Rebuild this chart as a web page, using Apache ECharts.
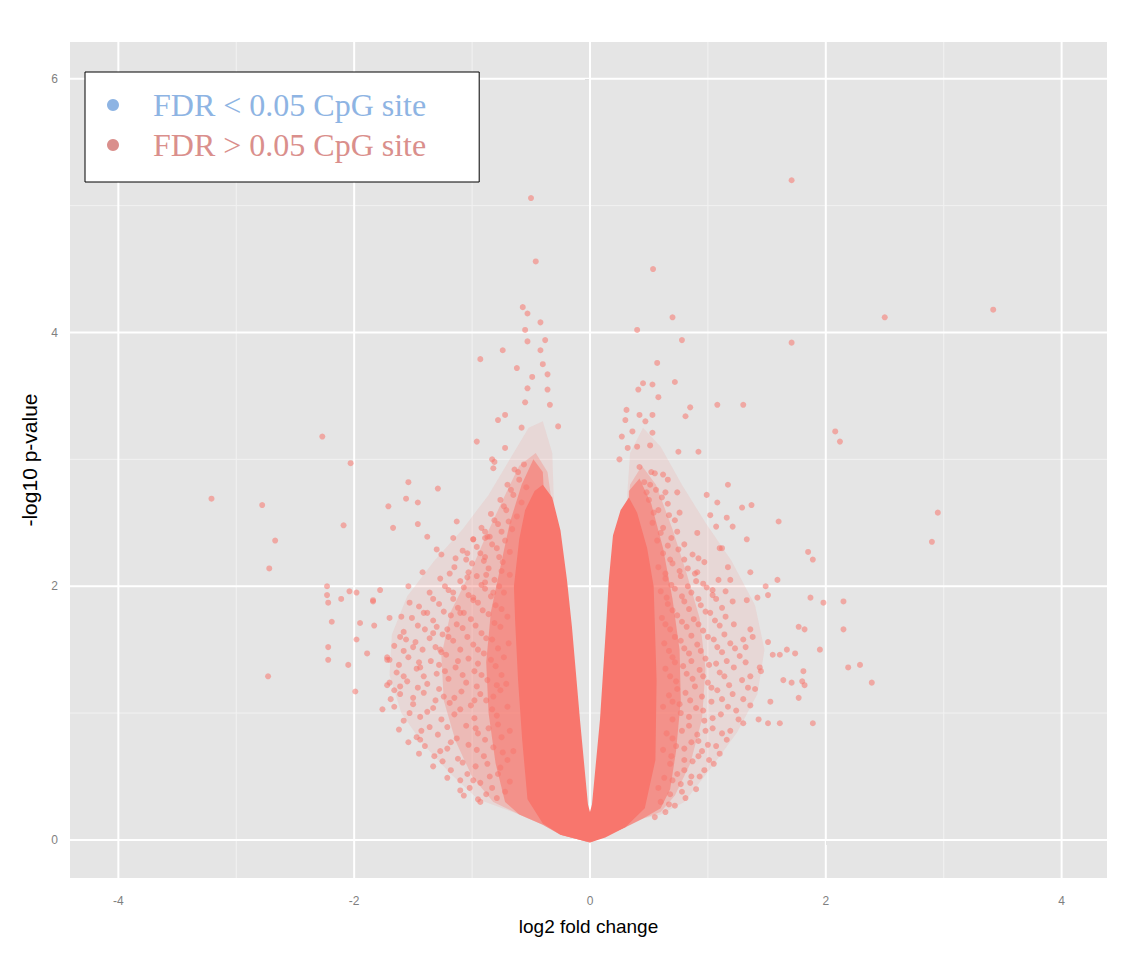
<!DOCTYPE html>
<html><head><meta charset="utf-8">
<script src="https://cdn.jsdelivr.net/npm/echarts@6/dist/echarts.min.js"></script>
<style>html,body{margin:0;padding:0;background:#fff}#c{width:1127px;height:956px}</style>
</head><body><div id="c"></div><script>
const xMajorTicks=[-4,-2,0,2,4];
const xMinorTicks=[-3,-1,1,3];
const yMajorTicks=[0,2,4,6];
const yMinorTicks=[1,3,5];
const seriesNames=['FDR < 0.05 CpG site','FDR > 0.05 CpG site'];
const significantPoints=[];
// dense core (solid) outline in data coordinates
const coreOutline=[[0,-0.02],[-0.25,0.04],[-0.40,0.13],[-0.53,0.32],[-0.575,0.79],[-0.61,1.26],[-0.635,1.73],[-0.645,2.0],[-0.60,2.37],[-0.55,2.6],[-0.47,2.75],[-0.40,2.8],[-0.32,2.7],[-0.25,2.44],[-0.195,2.05],[-0.153,1.68],[-0.085,0.95],[-0.017,0.28],[0,0.22],[0.017,0.28],[0.085,0.95],[0.136,1.68],[0.16,2.05],[0.195,2.4],[0.26,2.6],[0.33,2.7],[0.40,2.58],[0.485,2.3],[0.54,2.0],[0.565,1.26],[0.555,0.63],[0.465,0.25],[0.30,0.1],[0.13,0.02]];
const haloOuterLeft=[[0,-0.02],[-0.25,0.04],[-0.4,0.12],[-0.6,0.2],[-0.8,0.27],[-0.95,0.32],[-1.18,0.52],[-1.42,0.76],[-1.6,1.0],[-1.7,1.3],[-1.68,1.62],[-1.55,1.92],[-1.32,2.2],[-1.08,2.45],[-0.86,2.72],[-0.68,3.0],[-0.52,3.25],[-0.40,3.3],[-0.32,3.05],[-0.3,2.5],[-0.35,1.5],[-0.3,0.5],[-0.1,0.1]];
const haloInnerLeft=[[0,-0.02],[-0.25,0.04],[-0.4,0.12],[-0.6,0.2],[-0.82,0.3],[-1.0,0.5],[-1.14,0.78],[-1.24,1.1],[-1.26,1.45],[-1.18,1.8],[-1.02,2.1],[-0.88,2.4],[-0.74,2.68],[-0.6,2.95],[-0.46,3.05],[-0.36,2.9],[-0.3,2.5],[-0.35,1.5],[-0.3,0.5],[-0.1,0.1]];
const nearCoreLeft=[[0,-0.02],[-0.25,0.04],[-0.4,0.12],[-0.6,0.2],[-0.72,0.3],[-0.8,0.6],[-0.86,1.0],[-0.88,1.4],[-0.84,1.8],[-0.76,2.15],[-0.68,2.5],[-0.58,2.8],[-0.48,3.0],[-0.4,2.9],[-0.35,2.0],[-0.3,0.5],[-0.1,0.1]];
const haloOuterRight=[[0,-0.02],[0.3,0.1],[0.45,0.17],[0.6,0.2],[0.8,0.3],[1.02,0.56],[1.25,0.85],[1.42,1.15],[1.48,1.5],[1.4,1.85],[1.2,2.2],[0.98,2.5],[0.78,2.8],[0.6,3.1],[0.45,3.25],[0.34,3.05],[0.3,2.5],[0.3,1.5],[0.25,0.5],[0.1,0.1]];
const haloInnerRight=[[0,-0.02],[0.3,0.1],[0.45,0.17],[0.6,0.22],[0.72,0.35],[0.85,0.6],[0.95,0.95],[0.98,1.35],[0.93,1.75],[0.82,2.1],[0.7,2.45],[0.56,2.8],[0.44,2.95],[0.34,2.8],[0.3,2.3],[0.3,1.5],[0.25,0.5],[0.1,0.1]];
const nearCoreRight=[[0,-0.02],[0.3,0.1],[0.45,0.17],[0.6,0.25],[0.68,0.4],[0.73,0.7],[0.77,1.1],[0.76,1.5],[0.7,1.9],[0.62,2.3],[0.52,2.65],[0.42,2.85],[0.33,2.75],[0.32,2.0],[0.25,0.5],[0.1,0.1]];
const fringeLeft=[[-0.95,0.32],[-0.88,0.36],[-1.02,0.41],[-0.79,0.33],[-1.10,0.47],[-0.93,0.45],[-0.72,0.38],[-1.18,0.55],[-1.04,0.52],[-0.85,0.50],[-0.68,0.46],[-0.97,0.58],[-1.25,0.62],[-0.76,0.57],
[-1.32,0.66],[-1.12,0.64],[-0.90,0.66],[-0.70,0.63],[-1.40,0.74],[-1.21,0.72],[-1.03,0.75],[-0.82,0.73],[-0.65,0.70],[-1.47,0.81],[-1.29,0.83],[-1.13,0.80],[-0.95,0.84],[-0.75,0.81],[-1.36,0.89],[-1.05,0.90],[-0.86,0.88],[-0.68,0.86],
[-1.58,0.94],[-1.44,0.97],[-1.26,0.95],[-1.15,0.99],[-0.98,0.96],[-0.79,0.98],[-1.66,1.05],[-1.50,1.07],[-1.33,1.04],[-1.19,1.08],[-1.01,1.06],[-0.88,1.10],[-0.70,1.05],[-1.61,1.15],[-1.41,1.16],[-1.24,1.13],[-1.09,1.17],[-0.93,1.15],[-0.76,1.18],
[-1.72,1.22],[-1.55,1.25],[-1.38,1.23],[-1.20,1.27],[-1.05,1.24],[-0.87,1.26],[-0.71,1.23],[-1.64,1.32],[-1.47,1.35],[-1.30,1.31],[-1.14,1.36],[-0.98,1.33],[-0.80,1.37],[-1.70,1.42],[-1.54,1.44],[-1.35,1.41],[-1.22,1.46],[-1.03,1.43],[-0.90,1.47],[-0.73,1.44],
[-1.66,1.53],[-1.48,1.56],[-1.31,1.52],[-1.16,1.57],[-0.99,1.54],[-0.83,1.58],[-0.69,1.55],[-1.58,1.64],[-1.40,1.66],[-1.25,1.62],[-1.08,1.67],[-0.92,1.63],[-0.76,1.68],[-1.51,1.75],[-1.33,1.73],[-1.18,1.77],[-1.01,1.74],[-0.86,1.78],[-0.70,1.76],
[-1.45,1.84],[-1.28,1.86],[-1.12,1.83],[-0.95,1.87],[-0.80,1.85],[-1.36,1.95],[-1.20,1.97],[-1.03,1.93],[-0.89,1.98],[-0.73,1.95],[-1.27,2.06],[-1.10,2.04],[-0.96,2.08],[-0.81,2.05],[-0.68,2.09],
[-1.15,2.15],[-1.00,2.18],[-0.86,2.14],[-0.74,2.19],[-1.08,2.28],[-0.93,2.26],[-0.79,2.30],[-0.68,2.27],[-0.99,2.37],[-0.85,2.39],[-0.72,2.36],
[-0.92,2.46],[-0.78,2.49],[-0.66,2.45],[-0.84,2.57],[-0.71,2.60],[-0.62,2.55],[-0.76,2.68],[-0.65,2.72],[-0.58,2.66],[-0.70,2.80],[-0.60,2.84],[-0.54,2.78],[-0.64,2.92],[-0.56,2.96]];
const fringeLeft2=[[-1.07,0.35],[-0.83,0.41],[-1.21,0.49],[-0.99,0.47],[-0.78,0.52],[-1.33,0.58],[-1.08,0.61],[-0.87,0.60],[-1.45,0.68],[-1.27,0.70],[-0.96,0.71],[-0.74,0.69],[-1.54,0.77],[-1.18,0.77],[-0.89,0.79],[-1.62,0.87],[-1.43,0.86],[-1.21,0.89],[-0.97,0.88],[-0.78,0.91],[-1.53,1.00],[-1.38,1.01],[-1.10,1.03],[-0.83,1.03],[-1.69,1.11],[-1.50,1.12],[-1.31,1.10],[-1.15,1.12],[-0.98,1.10],[-0.82,1.13],[-1.46,1.20],[-1.28,1.19],[-0.96,1.21],[-0.79,1.22],[-1.58,1.29],[-1.41,1.29],[-1.23,1.33],[-1.08,1.30],[-0.92,1.30],[-0.75,1.30],[-1.62,1.38],[-1.45,1.40],[-1.28,1.38],[-1.12,1.41],[-0.95,1.39],[-0.84,1.42],[-1.58,1.49],[-1.42,1.50],[-1.26,1.48],[-1.10,1.50],[-0.95,1.50],[-0.78,1.51],[-1.56,1.58],[-1.36,1.59],[-1.20,1.60],[-1.04,1.60],[-0.88,1.59],[-1.46,1.69],[-1.30,1.68],[-1.13,1.70],[-0.97,1.69],[-0.81,1.71],[-1.41,1.79],[-1.24,1.80],[-1.07,1.79],[-0.91,1.81],[-0.75,1.82],[-1.33,1.90],[-1.16,1.90],[-0.99,1.91],[-0.84,1.92],[-1.23,2.00],[-1.07,1.99],[-0.92,2.01],[-0.77,2.00],[-1.19,2.10],[-1.03,2.11],[-0.88,2.09],[-0.75,2.12],[-1.05,2.21],[-0.90,2.20],[-0.77,2.23],[-0.96,2.31],[-0.83,2.33],[-0.89,2.43],[-0.75,2.43],[-0.81,2.52],[-0.69,2.51],[-0.73,2.63],[-0.67,2.76],[-0.61,2.90]];
const fringeRight=[[0.55,0.18],[0.64,0.22],[0.72,0.27],[0.60,0.30],[0.81,0.33],[0.68,0.36],[0.90,0.40],[0.58,0.41],[0.77,0.44],
[0.63,0.49],[0.74,0.52],[0.86,0.50],[0.97,0.55],[1.05,0.60],[0.68,0.60],[0.80,0.63],[0.92,0.66],[1.10,0.68],[0.62,0.71],[0.73,0.74],[0.86,0.77],[1.00,0.75],[1.16,0.79],
[0.65,0.84],[0.78,0.86],[0.91,0.83],[1.04,0.88],[1.19,0.86],[1.30,0.92],[0.70,0.95],[0.84,0.97],[0.97,0.94],[1.11,0.99],[1.24,1.02],[0.62,1.05],[0.76,1.07],[0.90,1.04],[1.03,1.09],[1.36,1.06],
[0.67,1.14],[0.81,1.16],[0.95,1.13],[1.08,1.18],[1.21,1.15],[1.40,1.19],[0.73,1.25],[0.87,1.27],[1.00,1.24],[1.14,1.29],[1.29,1.26],[0.64,1.35],[0.79,1.37],[0.93,1.34],[1.07,1.39],[1.22,1.36],[1.45,1.33],
[0.70,1.44],[0.84,1.47],[0.98,1.43],[1.12,1.48],[1.27,1.45],[0.63,1.55],[0.77,1.57],[0.91,1.54],[1.05,1.58],[1.19,1.55],[1.38,1.60],[0.68,1.66],[0.82,1.68],[0.96,1.65],[1.10,1.69],
[0.61,1.75],[0.74,1.77],[0.88,1.74],[1.02,1.79],[1.15,1.76],[0.66,1.86],[0.80,1.88],[0.94,1.85],[1.07,1.90],[0.60,1.96],[0.72,1.98],[0.86,1.95],[0.99,1.99],
[0.64,2.06],[0.77,2.08],[0.90,2.04],[0.58,2.15],[0.70,2.18],[0.83,2.14],[0.97,2.19],[0.62,2.26],[0.75,2.29],[0.87,2.25],[0.57,2.36],[0.69,2.38],
[0.62,2.46],[0.53,2.50],[0.72,2.52],[0.58,2.60],[0.66,2.65],[0.50,2.68],[0.56,2.76],[0.46,2.82],[0.62,2.88]];
const fringeRight2=[[0.67,0.28],[0.78,0.38],[0.85,0.45],[0.70,0.47],[0.93,0.50],[0.80,0.55],[1.01,0.63],[0.87,0.62],[0.69,0.66],[0.95,0.70],[1.07,0.74],[0.80,0.72],[0.70,0.80],[0.92,0.78],[1.12,0.84],[0.98,0.86],[0.84,0.90],[1.26,0.95],[1.04,0.96],[0.77,1.00],[0.96,1.02],[1.17,1.05],[0.70,1.09],[0.85,1.10],[1.30,1.11],[1.12,1.11],[0.74,1.19],[0.89,1.21],[1.03,1.20],[1.18,1.22],[1.34,1.20],[0.68,1.29],[0.82,1.31],[0.96,1.29],[1.10,1.32],[1.36,1.29],[0.72,1.40],[0.86,1.41],[1.01,1.38],[1.16,1.41],[1.32,1.40],[0.67,1.49],[0.80,1.51],[0.94,1.49],[1.08,1.52],[1.23,1.51],[0.72,1.60],[0.86,1.61],[1.00,1.60],[1.14,1.62],[1.30,1.58],[0.64,1.70],[0.78,1.72],[0.92,1.70],[1.06,1.73],[1.22,1.70],[0.70,1.81],[0.84,1.82],[0.98,1.80],[1.12,1.83],[0.65,1.91],[0.78,1.92],[0.92,1.90],[1.04,1.93],[0.69,2.01],[0.83,2.00],[0.96,2.02],[0.64,2.10],[0.76,2.12],[0.89,2.10],[0.68,2.21],[0.80,2.21],[0.92,2.22],[0.66,2.32],[0.80,2.33],[0.60,2.42],[0.74,2.43],[0.67,2.56],[0.54,2.58],[0.61,2.70],[0.52,2.90],[0.48,2.74]];
const sparsePoints=[[-0.50,5.06],[-0.46,4.56],[1.71,5.20],[0.535,4.50],[3.42,4.18],[2.50,4.12],[1.71,3.92],
[-0.57,4.20],[-0.53,4.15],[-0.42,4.08],[-0.55,4.02],[-0.38,3.94],[-0.53,3.93],[-0.74,3.86],[-0.42,3.86],[-0.62,3.72],[-0.40,3.75],[-0.36,3.67],[-0.49,3.65],[-0.53,3.56],[-0.36,3.55],[-0.93,3.79],[-0.72,3.35],[-0.78,3.31],[-0.55,3.45],[-0.34,3.43],[-0.27,3.26],[-0.58,3.25],[-0.72,3.09],[-0.83,3.0],[-0.82,2.93],[-0.96,3.14],[-0.81,2.98],
[0.70,4.12],[0.78,3.94],[0.40,4.02],[0.57,3.76],[0.72,3.61],[0.45,3.60],[0.53,3.59],[0.41,3.55],[0.58,3.49],[0.85,3.41],[1.08,3.43],[1.30,3.43],[0.81,3.34],[0.31,3.39],[0.42,3.35],[0.53,3.35],[0.30,3.31],[0.47,3.30],[0.36,3.22],[0.53,3.21],[0.27,3.18],[0.32,3.09],[0.40,3.10],[0.51,3.11],[0.75,3.06],[0.92,3.06],[0.25,3.0],[0.42,2.94],[0.55,2.89],[0.66,2.84],[2.08,3.22],[2.12,3.14],
[1.08,2.66],[1.29,2.62],[1.37,2.64],[1.16,2.54],[1.21,2.47],[1.60,2.51],[1.07,2.47],[0.91,2.42],[1.33,2.37],[1.10,2.30],[1.85,2.27],[1.89,2.21],[2.95,2.58],[2.90,2.35],[1.17,2.15],[1.36,2.11],[0.91,2.11],[1.09,2.05],[1.19,2.05],[1.04,1.97],[1.15,1.96],[1.21,1.88],[1.33,1.89],[1.42,1.91],[1.51,1.93],[1.87,1.91],[1.98,1.87],[2.15,1.88],[2.15,1.66],[1.77,1.68],[1.82,1.66],[1.36,1.66],[1.51,1.56],[1.32,1.52],[1.95,1.50],[1.55,1.46],[1.61,1.46],[1.67,1.50],[1.74,1.47],[1.44,1.36],[2.19,1.36],[2.29,1.38],[2.39,1.24],[1.81,1.33],[1.80,1.25],[1.64,1.26],[1.71,1.24],[1.82,1.22],[1.77,1.12],[1.53,1.09],[1.89,0.92],[1.61,0.92],[1.51,0.92],[1.43,0.95],[1.02,2.56],[0.99,2.72],[1.17,2.80],[0.76,2.58],[0.74,2.74],[0.64,2.74],[0.51,2.80],[1.12,2.30],[1.59,2.05],[1.49,2.00],
[-2.27,3.18],[-2.03,2.97],[-3.21,2.69],[-2.78,2.64],[-2.67,2.36],[-2.72,2.14],[-2.09,2.48],[-2.73,1.29],[-1.54,2.82],[-1.29,2.77],[-1.71,2.63],[-1.56,2.69],[-1.46,2.66],[-1.67,2.46],[-1.46,2.49],[-1.38,2.39],[-1.30,2.29],[-1.26,2.25],[-1.16,2.38],[-1.13,2.51],[-1.14,2.22],[-1.04,2.26],[-0.99,2.37],[-0.89,2.38],[-1.42,2.11],[-2.23,2.0],[-2.23,1.93],[-2.22,1.87],[-2.19,1.72],[-2.22,1.52],[-2.22,1.42],[-2.11,1.90],[-2.04,1.96],[-1.98,1.95],[-2.05,1.38],[-1.98,1.58],[-1.95,1.71],[-1.99,1.17],[-1.84,1.88],[-1.78,1.97],[-1.83,1.69],[-1.89,1.47],[-1.72,1.44],[-1.70,1.75],[-1.61,1.60],[-1.53,1.87],[-1.54,2.0],[-1.60,1.76],[-1.38,1.79],[-1.33,1.63],[-1.50,1.52],[-1.44,1.36],[-1.61,1.21],[-1.70,1.24],[-1.27,1.50],[-1.21,1.66],[-1.10,1.79],[-1.16,1.95],[-0.99,1.89],[-1.04,2.07],[-0.89,2.03],[-0.82,1.95],[-1.76,1.03],[-1.72,1.42],[-1.84,1.89],[-1.66,1.18],[-1.10,0.39],[-0.93,0.30],[-1.44,0.79],[-0.87,2.39],[-0.89,2.23]];

const chart=echarts.init(document.getElementById('c'),null,{renderer:'svg'});
const FONT='"Liberation Sans", Arial, sans-serif';
function polygonSeries(pts,opacity,z){
  return {type:'custom',silent:true,z:z,data:[[pts[0][0],pts[0][1]]],clip:true,
    renderItem:function(params,api){
      return {type:'polygon',shape:{points:pts.map(p=>api.coord(p))},style:{fill:'#F8766D',opacity:opacity}};
    }};
}
function gridSeries(vals,dir,width,color){
  return {type:'custom',silent:true,z:1,data:vals.map(v=>[v,v]),
    renderItem:function(params,api){
      const cs=params.coordSys;
      if(dir==='x'){
        const p=api.coord([api.value(0),0]);
        return {type:'line',shape:{x1:p[0],y1:cs.y,x2:p[0],y2:cs.y+cs.height},style:{stroke:color,lineWidth:width}};
      }
      const p=api.coord([0,api.value(1)]);
      return {type:'line',shape:{x1:cs.x,y1:p[1],x2:cs.x+cs.width,y2:p[1]},style:{stroke:color,lineWidth:width}};
    }};
}
const allNonSig=fringeLeft.concat(fringeLeft2,fringeRight,fringeRight2,sparsePoints);
chart.setOption({
  animation:false,
  grid:{left:70,right:20,top:42,bottom:78,show:true,backgroundColor:'#E5E5E5',borderWidth:0},
  xAxis:{type:'value',min:-4.41,max:4.385,name:'log2 fold change',nameLocation:'middle',nameGap:39,
    nameTextStyle:{fontSize:19,color:'#000',fontFamily:FONT},
    axisLine:{show:false},splitLine:{show:false},
    axisTick:{show:true,customValues:xMajorTicks,length:5,lineStyle:{color:'#7F7F7F',width:1}},
    axisLabel:{customValues:xMajorTicks,margin:17,color:'#7F7F7F',fontSize:12,fontFamily:FONT}},
  yAxis:{type:'value',min:-0.3,max:6.29,name:'-log10 p-value',nameLocation:'middle',nameGap:27,
    nameTextStyle:{fontSize:21,color:'#000',fontFamily:FONT},
    axisLine:{show:false},splitLine:{show:false},
    axisTick:{show:true,customValues:yMajorTicks,length:5,lineStyle:{color:'#7F7F7F',width:1}},
    axisLabel:{customValues:yMajorTicks,margin:12,color:'#7F7F7F',fontSize:12,fontFamily:FONT}},
  legend:{orient:'vertical',left:85,top:72,selectedMode:false,icon:'circle',itemWidth:12,itemHeight:12,itemGap:8,
    padding:[17,53,21,22],backgroundColor:'#fff',borderColor:'#000',borderWidth:1,
    textStyle:{fontFamily:'"Liberation Serif", "Times New Roman", serif',fontSize:32,lineHeight:32,padding:[0,0,0,29]},
    data:[{name:seriesNames[0],itemStyle:{color:'#8EB4E3',opacity:1},textStyle:{color:'#8EB4E3'}},
          {name:seriesNames[1],itemStyle:{color:'#DA8F8C',opacity:1},textStyle:{color:'#DA8F8C'}}]},
  series:[
    gridSeries(xMinorTicks,'x',1,'#F2F2F2'),
    gridSeries(yMinorTicks,'y',1,'#F2F2F2'),
    gridSeries(xMajorTicks,'x',2,'#FFFFFF'),
    gridSeries(yMajorTicks,'y',2,'#FFFFFF'),
    polygonSeries(haloOuterLeft,0.12,2),
    polygonSeries(haloOuterRight,0.12,2),
    polygonSeries(haloInnerLeft,0.3,2),
    polygonSeries(haloInnerRight,0.3,2),
    polygonSeries(nearCoreLeft,0.6,2),
    polygonSeries(nearCoreRight,0.6,2),
    polygonSeries(coreOutline,1,3),
    {name:seriesNames[0],type:'scatter',data:significantPoints,symbolSize:6,itemStyle:{color:'#8EB4E3'},z:4},
    {name:seriesNames[1],type:'scatter',data:allNonSig,symbolSize:6,z:4,silent:true,
      itemStyle:{color:'#F8766D',opacity:0.55}}
  ]
});
</script></body></html>
